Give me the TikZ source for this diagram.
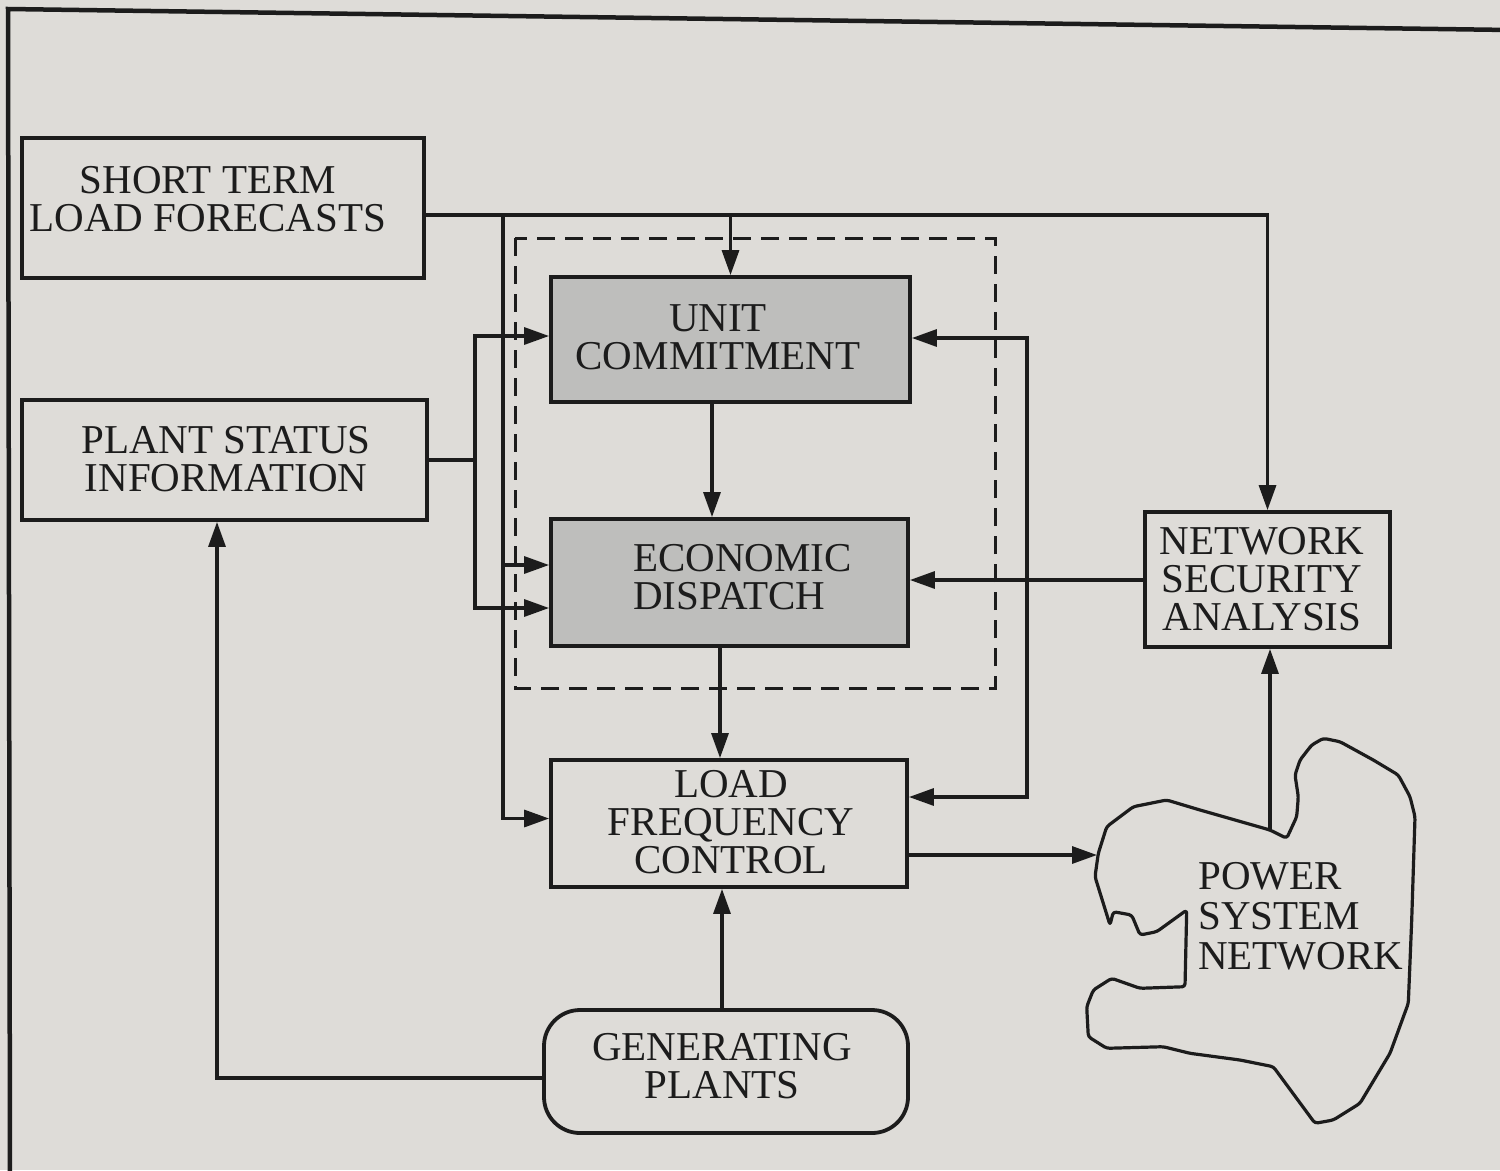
\documentclass[tikz,border=0pt]{standalone}
\usepackage{fontspec}
\setmainfont{Liberation Serif}
\usetikzlibrary{arrows.meta}
\definecolor{paper}{RGB}{222,220,216}
\definecolor{shade}{RGB}{190,190,188}
\definecolor{ink}{RGB}{28,28,28}
\begin{document}
\begin{tikzpicture}[x=1bp,y=-1bp,
  box/.style={draw=ink, line width=3.8bp, inner sep=0pt},
  gbox/.style={box, fill=shade},
  txt/.style={font=\fontsize{41bp}{38bp}\selectfont, align=center, inner sep=0pt, text=ink},
  conn/.style={draw=ink, line width=3.2bp},
  arr/.style={conn, -{Triangle[length=25bp,width=17bp]}},
  dbl/.style={conn, {Triangle[length=25bp,width=17bp]}-{Triangle[length=25bp,width=17bp]}},
  dashbox/.style={draw=ink, line width=3bp, dash pattern=on 18bp off 10bp},
  outline/.style={draw=ink, line width=3.2bp, rounded corners=3bp, line join=round}
]
\fill[paper] (0,0) rectangle (1500,1170);
\useasboundingbox (0,0) rectangle (1500,1170);
% outer frame
\draw[ink, line width=4.5bp] (10,1180) -- (8,9) -- (1510,30);

% dashed group
\draw[dashbox] (515,238) rectangle (995,688);

% boxes
\node[box, minimum width=402bp, minimum height=140bp] (stlf) at (223,208) {};
\node[txt] (stlft) at (208,199) {SHORT TERM\\LOAD FORECASTS};
\node[box, minimum width=405bp, minimum height=120bp] (psi) at (224.5,460) {};
\node[txt] (psit) at (226,459) {PLANT STATUS\\INFORMATION};
\node[gbox, minimum width=359bp, minimum height=125bp] (uc) at (730.5,339.5) {};
\node[txt] (uct) at (718,337) {UNIT\\COMMITMENT};
\node[gbox, minimum width=357bp, minimum height=127bp] (ed) at (729.5,582.5) {};
\node[txt, align=left, anchor=west] (edt) at (633,577) {ECONOMIC\\DISPATCH};
\node[box, minimum width=356bp, minimum height=127bp] (lfc) at (729,823.5) {};
\node[txt] (lfct) at (731,822) {LOAD\\FREQUENCY\\CONTROL};
\node[box, minimum width=245bp, minimum height=135bp] (nsa) at (1267.5,579.5) {};
\node[txt] (nsat) at (1262,579) {NETWORK\\SECURITY\\ANALYSIS};
\node[box, rounded corners=36bp, minimum width=364bp, minimum height=123bp] (gp) at (726,1071.5) {};
\node[txt] (gpt) at (722,1066) {GENERATING\\PLANTS};

% power system network outline
\draw[outline] (1098.3,853.3) -- (1095,876.7) -- (1110,925) -- (1113.3,911.7) -- (1131.7,915)
  -- (1140,935) -- (1156.7,931.7) -- (1186.7,910) -- (1185,986.7) -- (1140,988.3)
  -- (1111.7,978.3) -- (1093.3,990) -- (1086.7,1006.7) -- (1088.3,1036.7) -- (1106.7,1048.3)
  -- (1163.3,1046.7) -- (1190,1053.3) -- (1240,1060) -- (1273.3,1066.7) -- (1315,1123.3)
  -- (1333.3,1120) -- (1360,1103.3) -- (1390,1053.3) -- (1408.3,1003.3) -- (1411.7,920)
  -- (1415,816.7) -- (1410,796.7) -- (1398.3,775) -- (1373.3,760) -- (1340,741.7)
  -- (1323.3,738.3) -- (1311.7,745) -- (1300,760) -- (1295,775) -- (1298.3,796.7)
  -- (1296.7,816.7) -- (1286.7,838.3) -- (1270,830) -- (1200,810) -- (1166.7,800)
  -- (1133.3,806.7) -- (1106.7,826.7) -- cycle;
\node[txt, align=left, anchor=west, font=\fontsize{41bp}{40bp}\selectfont] (psnt) at (1198,916) {POWER\\SYSTEM\\NETWORK};
\coordinate (psnin) at (1097,855);
\coordinate (psnout) at (1270,830);

% helper coordinates
\coordinate (j1) at (503,215);
\coordinate (j2) at (475,460);
\coordinate (r1) at (1027,338);
\coordinate (yED1) at (0,565);
\coordinate (yED2) at (0,608);
\coordinate (yUC) at (0,336);
\coordinate (yLF) at (0,797);
\coordinate (yNS) at (0,580);
\coordinate (yGP) at (0,1078);
\coordinate (x712) at (712,0);
\coordinate (x720) at (720,0);
\coordinate (x722) at (722,0);
\coordinate (x217) at (217,0);

% connectors
\draw[arr] (stlf.east |- j1) -| (nsa.north);
\draw[arr] (uc.north |- j1) -- (uc.north);
\draw[arr] (j1) |- ([yshift=5bp]lfc.west);
\draw[arr] (j1 |- yED1) -- (ed.west |- yED1);
\draw[conn] (psi.east |- j2) -- (j2);
\draw[arr] (j2) |- (uc.west |- yUC);
\draw[arr] (j2) |- (ed.west |- yED2);
\draw[arr] (uc.south -| x712) -- (ed.north -| x712);
\draw[arr] (ed.south -| x720) -- (lfc.north -| x720);
\draw[dbl] (uc.east |- r1) -- (r1) -- (r1 |- yLF) -- (lfc.east |- yLF);
\draw[arr] (nsa.west |- yNS) -- (ed.east |- yNS);
\draw[arr] (lfc.east |- psnin) -- (psnin);
\draw[arr] (psnout) -- (nsa.south -| psnout);
\draw[arr] (gp.north -| x722) -- (lfc.south -| x722);
\draw[arr] (gp.west |- yGP) -| (psi.south -| x217);
\end{tikzpicture}
\end{document}
